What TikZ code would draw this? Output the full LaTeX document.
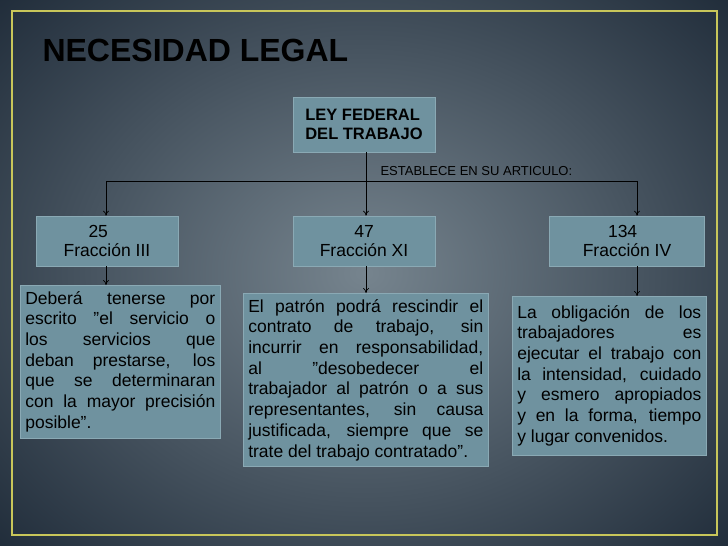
\documentclass[tikz,border=0pt]{standalone}
\usepackage{fontspec}
\setmainfont{Liberation Sans}
\usetikzlibrary{arrows.meta}
\definecolor{boxc}{HTML}{6F929F}
\definecolor{boxl}{HTML}{8AA9B4}
\definecolor{frm}{HTML}{C8C65A}
\newcommand{\dq}{\symbol{34}}
\tikzset{
  hbox/.style={fill=boxc,draw=boxl,line width=0.6pt,minimum height=50pt,align=center,font=\fontsize{17.5}{19}\selectfont,inner sep=2pt},
  tbox/.style={fill=boxc,draw=boxl,line width=0.6pt,align=justify,font=\fontsize{17.5}{20.7}\selectfont,inner xsep=5pt,inner ysep=6pt,anchor=north west},
  conn/.style={draw=black,line width=0.7pt},
  arr/.style={conn,-{To[length=5pt,width=6pt]}}
}
\begin{document}
\begin{tikzpicture}[x=1pt,y=-1pt]
\useasboundingbox (0,0) rectangle (728,546);
\clip (0,0) rectangle (728,546);
\shade[inner color={rgb,255:red,118;green,132;blue,142},outer color={rgb,255:red,22;green,34;blue,48}] (-200,-180) rectangle (928,726);
\draw[frm,line width=1.2pt] (12,11) rectangle (717,535);
\node[anchor=west,font=\fontsize{32}{34}\selectfont\bfseries] (title) at (39,50) {NECESIDAD LEGAL};
\node[hbox,minimum width=142pt,minimum height=55pt,font=\fontsize{16.5}{18.5}\selectfont\bfseries,align=left] (ley) at (364,124.5) {LEY FEDERAL\\DEL TRABAJO};
\node[font=\fontsize{13}{14}\selectfont,anchor=west] (est) at (377,171) {ESTABLECE EN SU ARTICULO:};
\node[hbox,minimum width=142pt] (b25) at (107,241) {\hspace*{-1em}25\\Fracción III};
\node[hbox,minimum width=142pt] (b47) at (364,241) {47\\Fracción XI};
\node[hbox,minimum width=155pt] (b134) at (627,241) {\hspace*{-0.5em}134\\Fracción IV};
\coordinate (jl) at (106,181);
\coordinate (jm) at (366,181);
\coordinate (jr) at (637,181);
\draw[conn] (ley.south -| jm) -- (jm);
\draw[arr] (jm) -- (jl) -- (jl |- b25.north);
\draw[arr] (jm) -- (b47.north -| jm);
\draw[arr] (jm) -- (jr) -- (jr |- b134.north);
\node[tbox,text width=190pt] (t1) at (20,285) {Deberá tenerse por\linebreak escrito \dq el servicio o\linebreak los servicios que\linebreak deban prestarse, los\linebreak que se determinaran\linebreak con la mayor precisión\linebreak posible\dq.};
\node[tbox,text width=235pt] (t2) at (243,293) {El patrón podrá rescindir el\linebreak contrato de trabajo, sin\linebreak incurrir en responsabilidad,\linebreak al \dq desobedecer el\linebreak trabajador al patrón o a sus\linebreak representantes, sin causa\linebreak justificada, siempre que se\linebreak trate del trabajo contratado\dq.};
\node[tbox,text width=184pt,inner ysep=9pt] (t3) at (512,296) {La obligación de los\linebreak trabajadores es\linebreak ejecutar el trabajo con\linebreak la intensidad, cuidado\linebreak y esmero apropiados\linebreak y en la forma, tiempo\linebreak y lugar convenidos.};
\draw[arr] (b25.south -| jl) -- (t1.north -| jl);
\draw[arr] (b47.south -| jm) -- (t2.north -| jm);
\draw[arr] (b134.south -| jr) -- (t3.north -| jr);
\end{tikzpicture}
\end{document}
